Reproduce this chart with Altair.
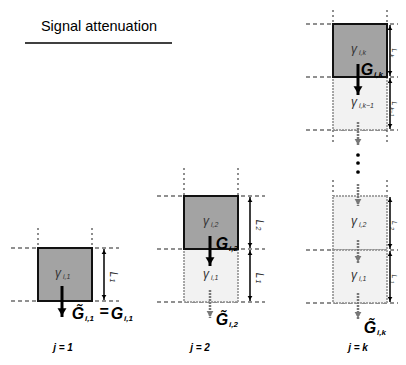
import altair as alt
import pandas as pd

# ---------------- data (diagram geometry in image coordinates) ----------------
title_text = "Signal attenuation"

col_labels = ["j = 1", "j = 2", "j = k"]
col_left = [38, 184, 333]
col_right = [92, 238, 387]
col_center = [62, 210, 358]

box_col = [0, 1, 1, 2, 2, 2, 2]
box_top = [248, 196, 249, 24, 77, 196, 250]
box_bot = [301, 249, 302, 77, 130, 250, 303]
box_kind = ["dark", "dark", "light", "dark", "light", "light", "light"]
box_sub = ["i,1", "i,2", "i,1", "i,k", "i,k−1", "i,2", "i,1"]

# dashed level lines: (column, y)
level_col = [0, 0, 1, 1, 1, 2, 2, 2, 2, 2]
level_y = [248, 301, 196, 249, 302, 24, 77, 130, 250, 303]

# dotted vertical guides: (column, y start, y end)
guide_col = [0, 1, 2, 2, 2]
guide_y1 = [228, 168, 0, 130, 180]
guide_y2 = [248, 196, 24, 145, 196]

# thick flux arrows (G): column, y start, y tip
g_col = [0, 1, 2]
g_y1 = [286, 236, 64]
g_y2 = [317, 266, 95]

# faint (attenuated) arrows
f_col = [1, 2, 2, 2, 2]
f_y1 = [290, 122, 184, 240, 293]
f_y2 = [318, 146, 206, 263, 319]

# dimension arrows: x, y1, y2, subscript
dim_x = [104, 250, 250, 390, 390, 390, 390]
dim_y1 = [249, 197, 250, 25, 78, 197, 251]
dim_y2 = [300, 248, 301, 76, 129, 249, 302]
dim_sub = ["1", "2", "1", "k", "k−1", "2", "1"]
dim_lab_dx = [9, 9, 9, 3.8, 3.8, 3.8, 3.8]

dots_y = [155, 163, 172]

# G labels
g_main = ["G̃", "=", "G", "G", "G̃", "G", "G̃"]
g_x = [78, 104, 117, 222, 222, 367, 370]
g_y = [314, 312, 314, 244, 320, 70, 328]
g_sub = ["i,1", "", "i,1", "i,2", "i,2", "i,k", "i,k"]

# ---------------- chart helpers ----------------
xs = alt.Scale(domain=[8, 398], nice=False, zero=False)
ys = alt.Scale(domain=[8, 357], nice=False, zero=False, reverse=True)


def X(f="x"):
    return alt.X(f"{f}:Q", scale=xs, axis=None)


def Y(f="y"):
    return alt.Y(f"{f}:Q", scale=ys, axis=None)


layers = []

# dashed level lines
lv = pd.DataFrame({
    "x": [col_left[c] - 27 for c in level_col],
    "x2": [min(col_right[c] + 27, 398) for c in level_col],
    "y": level_y,
})
layers.append(alt.Chart(lv).mark_rule(color="#222", strokeWidth=1.2, strokeDash=[4, 3]).encode(
    x=X(), x2="x2:Q", y=Y()))

# vertical dotted guides
gd_rows = []
for c, a, b in zip(guide_col, guide_y1, guide_y2):
    for xx in (col_left[c], col_right[c]):
        gd_rows.append({"x": xx, "y": a, "y2": b})
gd = pd.DataFrame(gd_rows)
layers.append(alt.Chart(gd).mark_rule(color="#444", strokeWidth=1.2, strokeDash=[2, 3]).encode(
    x=X(), y=Y(), y2="y2:Q"))

# boxes
bx = pd.DataFrame({
    "x": [col_left[c] for c in box_col],
    "x2": [col_right[c] for c in box_col],
    "y": box_top, "y2": box_bot, "kind": box_kind,
})
layers.append(alt.Chart(bx[bx.kind == "light"]).mark_rect(
    fill="#f2f2f2", stroke="#8a8a8a", strokeWidth=1.5, strokeDash=[2, 1]).encode(
    x=X(), x2="x2:Q", y=Y(), y2="y2:Q"))
layers.append(alt.Chart(bx[bx.kind == "dark"]).mark_rect(
    fill="#a3a3a3", stroke="#111", strokeWidth=2).encode(
    x=X(), x2="x2:Q", y=Y(), y2="y2:Q"))

# faint arrows
fa = pd.DataFrame({"x": [col_center[c] for c in f_col], "y": f_y1, "y2": f_y2,
                   "yh": [t - 4 for t in f_y2]})
layers.append(alt.Chart(fa).mark_rule(color="#777", strokeWidth=2.5, strokeDash=[2, 1]).encode(
    x=X(), y=Y(), y2="y2:Q"))
layers.append(alt.Chart(fa).mark_point(shape="triangle-down", filled=True, color="#777",
                                       size=45, opacity=1).encode(x=X(), y=Y("yh")))

# thick G arrows
ga = pd.DataFrame({"x": [col_center[c] for c in g_col], "y": g_y1, "y2": g_y2,
                   "yh": [t - 5 for t in g_y2]})
layers.append(alt.Chart(ga).mark_rule(color="#000", strokeWidth=3).encode(
    x=X(), y=Y(), y2="y2:Q"))
layers.append(alt.Chart(ga).mark_point(shape="triangle-down", filled=True, color="#000",
                                       size=80, opacity=1).encode(x=X(), y=Y("yh")))

# dimension arrows
dm = pd.DataFrame({"x": dim_x, "y": dim_y1, "y2": dim_y2,
                   "yt": [a + 3 for a in dim_y1], "yb": [b - 3 for b in dim_y2]})
layers.append(alt.Chart(dm).mark_rule(color="#000", strokeWidth=1.5).encode(
    x=X(), y=Y(), y2="y2:Q"))
layers.append(alt.Chart(dm).mark_point(shape="triangle-up", filled=True, color="#000",
                                       size=22, opacity=1).encode(x=X(), y=Y("yt")))
layers.append(alt.Chart(dm).mark_point(shape="triangle-down", filled=True, color="#000",
                                       size=22, opacity=1).encode(x=X(), y=Y("yb")))

# vertical ellipsis dots
dd = pd.DataFrame({"x": [col_center[2]] * len(dots_y), "y": dots_y})
layers.append(alt.Chart(dd).mark_circle(color="#000", size=14, opacity=1).encode(x=X(), y=Y()))

# title and underline
tt = pd.DataFrame({"x": [99], "y": [27], "t": [title_text]})
layers.append(alt.Chart(tt).mark_text(font="Liberation Sans", fontSize=14.5, color="#000").encode(
    x=X(), y=Y(), text="t:N"))
ul = pd.DataFrame({"x": [25], "x2": [172], "y": [43]})
layers.append(alt.Chart(ul).mark_rule(color="#000", strokeWidth=1.5).encode(x=X(), x2="x2:Q", y=Y()))

# gamma labels
gm = pd.DataFrame({
    "x": [col_center[c] - 4 for c in box_col],
    "y": [(a + b) / 2 - 2 for a, b in zip(box_top, box_bot)],
    "t": ["γ"] * len(box_col),
    "xs": [col_center[c] + 1 for c in box_col],
    "ys": [(a + b) / 2 + 2 for a, b in zip(box_top, box_bot)],
    "s": box_sub,
})
layers.append(alt.Chart(gm).mark_text(font="Liberation Sans", fontStyle="italic", fontSize=12,
                                      color="#333").encode(x=X(), y=Y(), text="t:N"))
layers.append(alt.Chart(gm).mark_text(font="Liberation Sans", fontStyle="italic", fontSize=7,
                                      color="#333", align="left").encode(x=X("xs"), y=Y("ys"), text="s:N"))

# L dimension labels (rotated)
lb = pd.DataFrame({"x": [x + d for x, d in zip(dim_x, dim_lab_dx)],
                   "y": [(a + b) / 2 for a, b in zip(dim_y1, dim_y2)]})
lb["t"] = ["L" for _ in dim_sub]
lb["s"] = dim_sub
lb["ys"] = lb["y"] + 4
lb["xs"] = lb["x"] - 1.5
lb_big = lb[lb.x < 300]
lb_small = lb[lb.x >= 300]
for part, fs, fss in ((lb_big, 10, 7), (lb_small, 7, 5.5)):
    layers.append(alt.Chart(part).mark_text(font="Liberation Sans", fontStyle="italic", fontSize=fs,
                                            color="#222", angle=90).encode(x=X(), y=Y("y"), text="t:N"))
    layers.append(alt.Chart(part).mark_text(font="Liberation Sans", fontStyle="italic", fontSize=fss,
                                            color="#222", angle=90, align="left").encode(
        x=X("xs"), y=Y("ys"), text="s:N"))

# G labels (big bold italic) with subscripts
gl = pd.DataFrame({"x": g_x, "y": g_y, "t": g_main,
                   "xs": [x + 7 for x in g_x], "ys": [y + 5 for y in g_y], "s": g_sub})
layers.append(alt.Chart(gl).mark_text(font="Liberation Sans", fontStyle="italic", fontWeight="bold",
                                      fontSize=16, color="#000").encode(x=X(), y=Y(), text="t:N"))
layers.append(alt.Chart(gl).mark_text(font="Liberation Sans", fontStyle="italic", fontWeight="bold",
                                      fontSize=8, color="#000", align="left").encode(
    x=X("xs"), y=Y("ys"), text="s:N"))

# column labels j = ...
jl = pd.DataFrame({"x": [63, 200, 358], "y": [348] * 3, "t": col_labels})
layers.append(alt.Chart(jl).mark_text(font="Liberation Sans", fontStyle="italic", fontWeight="bold",
                                      fontSize=10, color="#000").encode(x=X(), y=Y(), text="t:N"))

chart = alt.layer(*layers).properties(
    width=390, height=349, padding=0,
    autosize=alt.AutoSizeParams(type="none"),
).configure_view(stroke=None)

chart.save("out.html", embed_options={"renderer": "svg", "actions": False})
